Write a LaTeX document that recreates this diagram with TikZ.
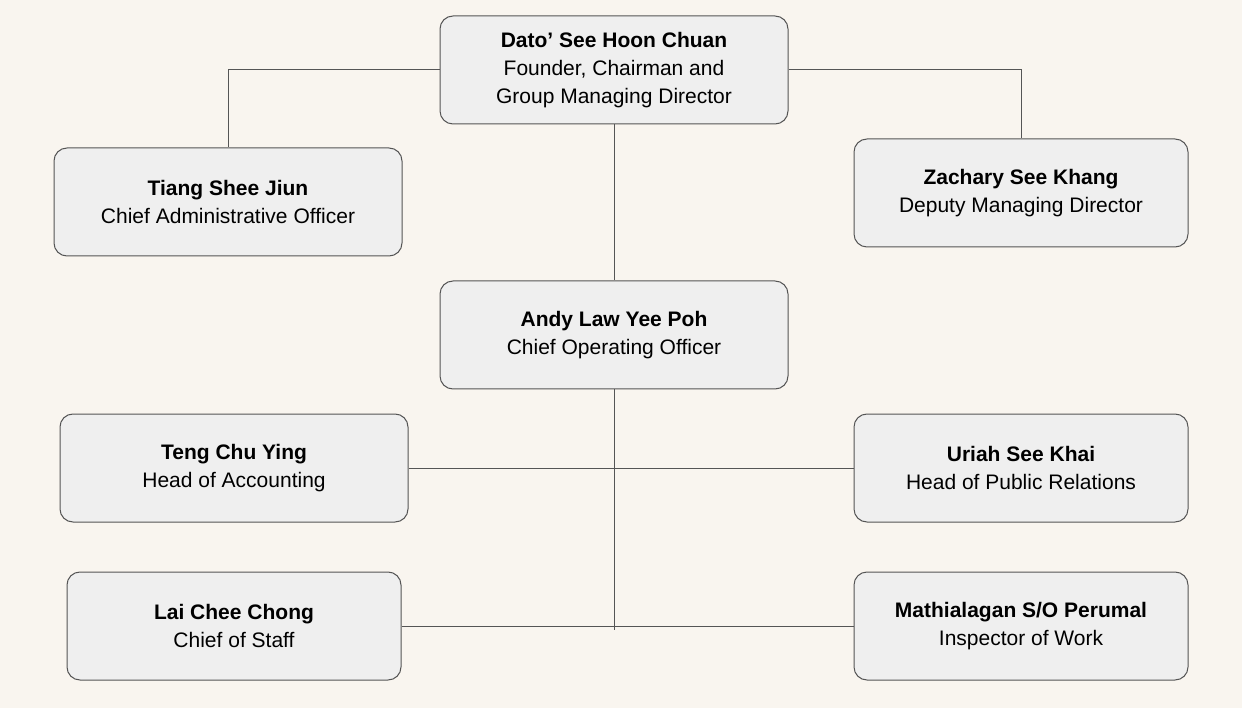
\documentclass[tikz,border=0pt]{standalone}
\usepackage{fontspec}
\setmainfont{Liberation Sans}
\definecolor{bg}{HTML}{F9F5EF}
\definecolor{boxfill}{HTML}{EFEFEF}
\definecolor{boxline}{HTML}{555555}
\begin{document}
\begin{tikzpicture}[x=1pt,y=-1pt,
  person/.style={draw=boxline,fill=boxfill,rounded corners=13pt,line width=1pt,
    minimum height=108pt,align=center,font=\fontsize{21}{28}\selectfont},
  link/.style={draw=boxline,line width=1pt}]
\fill[bg] (0,0) rectangle (1242,708);
\useasboundingbox (0,0) rectangle (1242,708);
\node[person,minimum width=348pt] (top) at (614,70) {\textbf{Dato’ See Hoon Chuan}\\Founder, Chairman and\\Group Managing Director};
\node[person,minimum width=348pt] (tiang) at (228,202) {\textbf{Tiang Shee Jiun}\\Chief Administrative Officer};
\node[person,minimum width=334pt] (zach) at (1021,193) {\textbf{Zachary See Khang}\\Deputy Managing Director};
\node[person,minimum width=348pt] (andy) at (614,335) {\textbf{Andy Law Yee Poh}\\Chief Operating Officer};
\node[person,minimum width=348pt] (teng) at (234,468) {\textbf{Teng Chu Ying}\\Head of Accounting};
\node[person,minimum width=334pt] (uriah) at (1021,468) {\textbf{Uriah See Khai}\\Head of Public Relations};
\node[person,minimum width=334pt] (lai) at (234,626) {\textbf{Lai Chee Chong}\\Chief of Staff};
\node[person,minimum width=334pt] (mathi) at (1021,626) {\textbf{Mathialagan S/O Perumal}\\Inspector of Work};
\coordinate (stem) at (614,630);
\path[link] (top.west) -| (tiang.north);
\path[link] (top.east) -| (zach.north);
\path[link] (top.south) -- (andy.north);
\path[link] (andy.south) -- (stem);
\path[link] (teng.east) -- (uriah.west);
\path[link] (lai.east) -- (mathi.west);
\end{tikzpicture}
\end{document}
